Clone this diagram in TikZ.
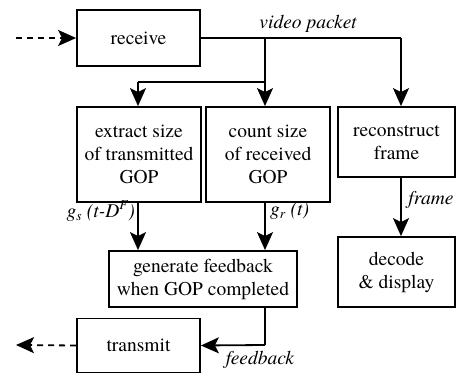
\documentclass[tikz,border=0pt]{standalone}
\usepackage{fontspec}
\setmainfont{texgyretermes}[Extension=.otf,UprightFont=*-regular,ItalicFont=*-italic,BoldFont=*-bold,BoldItalicFont=*-bolditalic]
\usetikzlibrary{arrows.meta}
\begin{document}
\begin{tikzpicture}[x=1pt,y=-1pt,
  box/.style={draw,line width=1.8pt,inner sep=0pt,align=center,font=\fontsize{19.5}{23}\selectfont},
  conn/.style={line width=1.8pt,-{Stealth[length=18pt,width=16pt,inset=4pt]}},
  plain/.style={line width=1.8pt},
  dashedconn/.style={conn,dash pattern=on 6pt off 5pt},
  lbl/.style={font=\fontsize{19.5}{23}\selectfont\itshape,inner sep=0pt}]
\useasboundingbox (0,0) rectangle (456,374);
\node[box,minimum width=123pt,minimum height=56pt] (receive) at (138.5,38) {receive};
\node[box,minimum width=124pt,minimum height=95pt] (extract) at (139,154.5) {extract size\\of transmitted\\GOP};
\node[box,minimum width=124pt,minimum height=95pt] (count) at (268,154.5) {count size\\of received\\GOP};
\node[box,minimum width=117pt,minimum height=70pt] (recon) at (396.5,142) {reconstruct\\frame};
\node[box,minimum width=117pt,minimum height=70pt] (decode) at (396.5,272) {decode\\\& display};
\node[box,minimum width=188pt,minimum height=56pt] (gen) at (203,279) {generate feedback\\when GOP completed};
\node[box,minimum width=123pt,minimum height=54pt] (transmit) at (138.5,345.5) {transmit};
\coordinate (inL) at (16,38);
\coordinate (outL) at (16,345);
\coordinate (split) at (265,38);
\coordinate (branch) at (265,82);
\coordinate (corner) at (138,82);
\coordinate (rc) at (401,38);
\coordinate (fbc) at (265,345);
\draw[dashedconn] (inL) -- (receive.west);
\draw[plain] (receive.east) -- (rc);
\draw[conn] (rc) -- (recon.north -| rc);
\draw[plain] (split) -- (branch) -- (corner);
\draw[conn] (corner) -- (extract.north -| corner);
\draw[conn] (branch) -- (count.north -| branch);
\draw[conn] (extract.south -| corner) -- (gen.north -| corner);
\draw[conn] (count.south -| branch) -- (gen.north -| branch);
\draw[conn] (recon.south -| rc) -- (decode.north -| rc);
\draw[plain] (gen.south -| fbc) -- (fbc);
\draw[conn] (fbc) -- (transmit.east);
\draw[dashedconn] (transmit.west) -- (outL);
\node[lbl] (vp) at (308,24) {video packet};
\node[lbl] (fr) at (431,200) {frame};
\node[lbl,anchor=east] (gs) at (135,211) {g\textsubscript{s} (t-D\textsuperscript{F})};
\node[lbl,anchor=west] (gr) at (270,211) {g\textsubscript{r} (t)};
\node[lbl] (fb) at (260,360) {feedback};
\end{tikzpicture}
\end{document}
